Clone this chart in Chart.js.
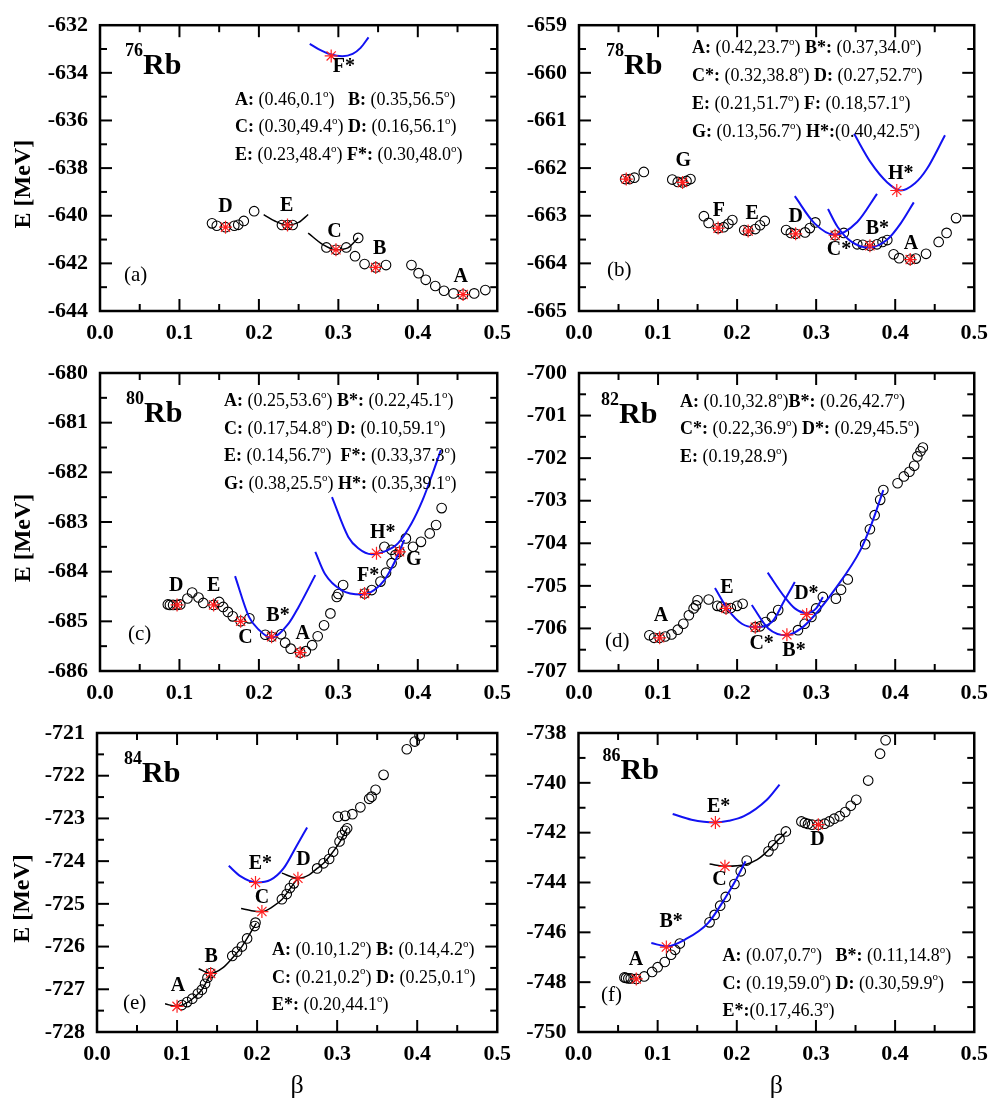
<!DOCTYPE html>
<html>
<head>
<meta charset="utf-8">
<title>Rb isotopes: E versus beta</title>
<script src="https://cdn.jsdelivr.net/npm/chart.js@4.4.1/dist/chart.umd.min.js"></script>
<style>
body { margin: 0; background: #fff; }
#page { position: relative; width: 997px; height: 1104px; overflow: hidden; background: #fff; }
#page canvas { position: absolute; }
</style>
</head>
<body>
<div id="page">
	<canvas id="rb76"></canvas>
	<canvas id="rb78"></canvas>
	<canvas id="rb80"></canvas>
	<canvas id="rb82"></canvas>
	<canvas id="rb84"></canvas>
	<canvas id="rb86"></canvas>
</div>
<script>
// beta axis: min, max, step (same for every panel)
var betaRange = [0, 0.5, 0.1];

// ---------- 76Rb ----------
var rb76Y = [-644, -632, 2];
var rb76Circles = [[0.141,-640.32],[0.147,-640.42],[0.158,-640.48],[0.169,-640.42],[0.174,-640.38],[0.181,-640.22],[0.194,-639.81],
	[0.229,-640.39],[0.236,-640.39],[0.2425,-640.39],[0.285,-641.33],[0.297,-641.43],[0.310,-641.33],[0.325,-640.93],[0.321,-641.70],
	[0.333,-642.03],[0.347,-642.17],[0.360,-642.07],[0.392,-642.07],[0.401,-642.41],[0.410,-642.69],[0.422,-642.95],[0.433,-643.15],
	[0.445,-643.26],[0.457,-643.31],[0.471,-643.26],[0.485,-643.12]];
var rb76Stars = [[0.158,-640.48],[0.236,-640.39],[0.297,-641.43],[0.347,-642.17],[0.457,-643.31],[0.291,-633.29]];
var rb76CurveF = [[0.264,-632.78],[0.275,-633.00],[0.29,-633.22],[0.305,-633.30],[0.318,-633.20],[0.328,-632.95],[0.338,-632.51]];
var rb76CurveE = [[0.206,-639.95],[0.22,-640.22],[0.236,-640.39],[0.25,-640.28],[0.262,-639.95]];
var rb76CurveC = [[0.262,-640.73],[0.28,-641.20],[0.297,-641.43],[0.312,-641.35],[0.325,-640.93]];
var rb76Labels = [["D",0.158,-639.61],["E",0.235,-639.58],["C",0.295,-640.66],["B",0.352,-641.37],["A",0.454,-642.55],["F*",0.307,-633.75]];
var rb76Notes = ["A: (0.46,0.1°)   B: (0.35,56.5°)", "C: (0.30,49.4°) D: (0.16,56.1°)", "E: (0.23,48.4°) F*: (0.30,48.0°)"];

// ---------- 78Rb ----------
var rb78Y = [-665, -659, 1];
var rb78Circles = [[0.0585,-662.23],[0.064,-662.23],[0.070,-662.20],[0.082,-662.08],
	[0.118,-662.24],[0.125,-662.29],[0.131,-662.30],[0.136,-662.27],[0.141,-662.23],
	[0.158,-663.01],[0.164,-663.15],[0.176,-663.26],[0.183,-663.24],[0.189,-663.17],[0.194,-663.09],
	[0.209,-663.30],[0.214,-663.32],[0.223,-663.28],[0.229,-663.20],[0.235,-663.11],
	[0.262,-663.30],[0.268,-663.36],[0.274,-663.38],[0.286,-663.35],[0.292,-663.26],[0.299,-663.14],
	[0.324,-663.41],[0.335,-663.36],
	[0.352,-663.60],[0.359,-663.61],[0.368,-663.63],[0.377,-663.60],[0.384,-663.55],[0.390,-663.51],
	[0.398,-663.81],[0.405,-663.89],[0.419,-663.92],[0.426,-663.90],[0.439,-663.80],[0.455,-663.55],[0.465,-663.36],[0.477,-663.05]];
var rb78Stars = [[0.0598,-662.23],[0.131,-662.30],[0.176,-663.26],[0.214,-663.32],[0.274,-663.38],[0.324,-663.41],[0.368,-663.63],[0.419,-663.92],[0.402,-662.47]];
var rb78CurveH = [[0.348,-661.28],[0.369,-661.88],[0.39,-662.30],[0.407,-662.47],[0.425,-662.32],[0.440,-662.02],[0.463,-661.31]];
var rb78CurveC = [[0.273,-662.59],[0.298,-663.16],[0.323,-663.40],[0.352,-663.13],[0.377,-662.54]];
var rb78CurveB = [[0.315,-662.86],[0.327,-663.23],[0.345,-663.55],[0.367,-663.67],[0.39,-663.50],[0.407,-663.16],[0.4235,-662.72]];
var rb78Labels = [["G",0.132,-661.85],["F",0.177,-662.89],["E",0.219,-662.96],["D",0.274,-663.03],["C*",0.329,-663.71],["B*",0.3775,-663.28],["A",0.420,-663.58],["H*",0.407,-662.12]];
var rb78Notes = ["A: (0.42,23.7°) B*: (0.37,34.0°)", "C*: (0.32,38.8°) D: (0.27,52.7°)", "E: (0.21,51.7°) F: (0.18,57.1°)", "G: (0.13,56.7°) H*:(0.40,42.5°)"];

// ---------- 80Rb ----------
var rb80Y = [-686, -680, 1];
var rb80Circles = [[0.0854,-684.66],[0.088,-684.67],[0.092,-684.67],[0.097,-684.67],[0.101,-684.66],
	[0.110,-684.54],[0.116,-684.42],[0.124,-684.52],[0.130,-684.63],[0.143,-684.67],[0.150,-684.61],[0.155,-684.71],
	[0.161,-684.81],[0.167,-684.90],[0.177,-685.00],[0.188,-684.94],
	[0.208,-685.27],[0.216,-685.31],[0.228,-685.26],
	[0.233,-685.43],[0.240,-685.55],[0.252,-685.63],[0.259,-685.60],[0.267,-685.48],[0.274,-685.30],[0.282,-685.08],
	[0.290,-684.84],[0.298,-684.51],[0.300,-684.45],[0.306,-684.27],
	[0.333,-684.44],[0.342,-684.37],[0.353,-684.20],[0.360,-684.02],[0.367,-683.83],[0.372,-683.66],
	[0.358,-683.50],[0.367,-683.56],[0.377,-683.60],[0.385,-683.33],[0.394,-683.50],[0.404,-683.40],[0.415,-683.23],[0.423,-683.06],[0.430,-682.72]];
var rb80Stars = [[0.097,-684.67],[0.143,-684.67],[0.177,-685.00],[0.216,-685.31],[0.252,-685.63],[0.333,-684.44],[0.348,-683.63],[0.377,-683.60]];
var rb80CurveB = [[0.170,-684.09],[0.1875,-684.91],[0.20,-685.17],[0.215,-685.33],[0.2375,-685.04],[0.25,-684.71],[0.271,-684.07]];
var rb80CurveF = [[0.271,-683.60],[0.283,-684.04],[0.304,-684.37],[0.329,-684.46],[0.345,-684.37],[0.358,-684.17],[0.371,-683.80],[0.383,-683.36]];
var rb80CurveH = [[0.292,-682.50],[0.3125,-683.30],[0.325,-683.53],[0.342,-683.65],[0.36,-683.58],[0.375,-683.43],[0.392,-683.03],[0.406,-682.56],[0.418,-682.05],[0.429,-681.55]];
var rb80Labels = [["D",0.096,-684.29],["E",0.143,-684.29],["C",0.183,-685.33],["B*",0.224,-684.89],["A",0.255,-685.25],["F*",0.3375,-684.08],["H*",0.356,-683.22],["G",0.395,-683.77]];
var rb80Notes = ["A: (0.25,53.6°) B*: (0.22,45.1°)", "C: (0.17,54.8°) D: (0.10,59.1°)", "E: (0.14,56.7°)  F*: (0.33,37.3°)", "G: (0.38,25.5°) H*: (0.35,39.1°)"];

// ---------- 82Rb ----------
var rb82Y = [-707, -700, 1];
var rb82Circles = [[0.089,-706.16],[0.095,-706.22],[0.102,-706.22],[0.109,-706.19],[0.117,-706.14],[0.125,-706.03],[0.132,-705.89],
	[0.139,-705.69],[0.145,-705.53],[0.148,-705.46],[0.150,-705.34],
	[0.164,-705.32],[0.175,-705.47],[0.180,-705.49],[0.186,-705.53],[0.192,-705.52],[0.200,-705.47],[0.207,-705.42],
	[0.223,-705.97],[0.229,-705.95],[0.236,-705.85],[0.244,-705.73],[0.252,-705.57],
	[0.277,-706.04],[0.2855,-705.89],[0.294,-705.73],[0.300,-705.53],[0.3085,-705.26],[0.325,-705.30],[0.3315,-705.09],[0.340,-704.85],
	[0.362,-704.02],[0.368,-703.67],[0.374,-703.34],[0.381,-702.98],[0.385,-702.75],
	[0.403,-702.59],[0.411,-702.43],[0.418,-702.32],[0.424,-702.18],[0.428,-701.96],[0.432,-701.84],[0.435,-701.75]];
var rb82Stars = [[0.102,-706.22],[0.186,-705.53],[0.223,-705.97],[0.263,-706.15],[0.288,-705.67]];
var rb82CurveC = [[0.172,-705.05],[0.189,-705.57],[0.206,-705.89],[0.223,-705.97],[0.244,-705.85],[0.260,-705.34],[0.273,-704.91]];
var rb82CurveB = [[0.2186,-705.45],[0.2395,-706.00],[0.2625,-706.16],[0.281,-706.00],[0.298,-705.69],[0.323,-705.10],[0.356,-704.16],[0.370,-703.55],[0.385,-702.75]];
var rb82CurveD = [[0.2387,-704.69],[0.260,-705.26],[0.273,-705.53],[0.2876,-705.64],[0.300,-705.53],[0.3085,-705.26]];
var rb82Labels = [["A",0.1037,-705.71],["E",0.187,-705.04],["C*",0.231,-706.35],["B*",0.272,-706.53],["D*",0.2876,-705.18]];
var rb82Notes = ["A: (0.10,32.8°)B*: (0.26,42.7°)", "C*: (0.22,36.9°) D*: (0.29,45.5°)", "E: (0.19,28.9°)"];

// ---------- 84Rb ----------
var rb84Y = [-728, -721, 1];
var rb84Circles = [[0.106,-727.37],[0.1125,-727.30],[0.119,-727.22],[0.126,-727.10],[0.131,-727.01],[0.135,-726.87],[0.138,-726.73],[0.142,-726.62],
	[0.169,-726.22],[0.175,-726.12],[0.181,-726.00],[0.1875,-725.81],[0.197,-725.52],[0.198,-725.44],
	[0.231,-724.89],[0.237,-724.77],[0.241,-724.63],[0.246,-724.52],
	[0.275,-724.17],[0.283,-724.05],[0.290,-723.95],[0.295,-723.78],[0.303,-723.54],[0.306,-723.39],[0.310,-723.29],[0.3125,-723.23],
	[0.301,-722.96],[0.310,-722.94],[0.319,-722.90],[0.329,-722.74],[0.340,-722.54],[0.343,-722.49],[0.348,-722.33],[0.358,-721.98],
	[0.387,-721.38],[0.397,-721.20],[0.403,-721.06]];
var rb84Stars = [[0.100,-727.40],[0.142,-726.63],[0.206,-725.18],[0.251,-724.40],[0.198,-724.50]];
var rb84CurveA = [[0.085,-727.34],[0.100,-727.40],[0.112,-727.32],[0.122,-727.18],[0.131,-727.01],[0.138,-726.78],[0.142,-726.63]];
var rb84CurveB = [[0.127,-726.52],[0.142,-726.63],[0.157,-726.50],[0.170,-726.25],[0.181,-726.00],[0.1875,-725.81],[0.199,-725.45]];
var rb84CurveC = [[0.180,-725.11],[0.193,-725.16],[0.206,-725.18],[0.22,-725.06],[0.231,-724.90],[0.241,-724.65],[0.250,-724.42]];
var rb84CurveD = [[0.231,-724.28],[0.251,-724.40],[0.265,-724.32],[0.275,-724.17],[0.283,-724.05],[0.292,-723.85],[0.304,-723.53],[0.3125,-723.23]];
var rb84CurveE = [[0.1646,-724.11],[0.179,-724.35],[0.200,-724.50],[0.2167,-724.44],[0.233,-724.17],[0.25,-723.62],[0.2625,-723.21]];
var rb84Labels = [["A",0.101,-726.93],["B",0.1425,-726.24],["C",0.206,-724.87],["D",0.258,-723.97],["E*",0.204,-724.07]];
var rb84Notes = ["A: (0.10,1.2°) B: (0.14,4.2°)", "C: (0.21,0.2°) D: (0.25,0.1°)", "E*: (0.20,44.1°)"];

// ---------- 86Rb ----------
var rb86Y = [-750, -738, 2];
var rb86Circles = [[0.058,-747.81],[0.060,-747.83],[0.063,-747.85],[0.066,-747.85],[0.073,-747.87],[0.083,-747.77],[0.093,-747.59],
	[0.100,-747.40],[0.109,-747.19],[0.117,-746.90],[0.122,-746.70],[0.128,-746.45],
	[0.1656,-745.60],[0.172,-745.30],[0.179,-744.93],[0.186,-744.58],[0.197,-744.06],[0.205,-743.55],[0.2125,-743.12],
	[0.240,-742.75],[0.246,-742.51],[0.254,-742.25],[0.262,-741.95],
	[0.2816,-741.55],[0.286,-741.61],[0.290,-741.65],[0.295,-741.68],[0.303,-741.68],[0.311,-741.64],[0.317,-741.55],[0.323,-741.44],
	[0.330,-741.34],[0.337,-741.17],[0.344,-740.92],[0.351,-740.68],[0.366,-739.91],[0.381,-738.83],[0.388,-738.29]];
var rb86Stars = [[0.073,-747.87],[0.111,-746.59],[0.185,-743.35],[0.303,-741.68],[0.173,-741.59]];
var rb86CurveB = [[0.092,-746.43],[0.112,-746.56],[0.1346,-746.29],[0.1636,-745.63],[0.184,-744.69],[0.199,-743.89],[0.211,-743.15]];
var rb86CurveC = [[0.1656,-743.26],[0.186,-743.35],[0.211,-743.28],[0.2257,-743.08],[0.234,-742.88],[0.2505,-742.35],[0.263,-741.95]];
var rb86CurveE = [[0.119,-741.25],[0.1428,-741.48],[0.172,-741.59],[0.19,-741.52],[0.209,-741.34],[0.238,-740.68],[0.254,-740.07]];
var rb86Labels = [["A",0.0725,-747.10],["B*",0.117,-745.59],["C",0.178,-743.89],["D",0.302,-742.28],["E*",0.177,-740.96]];
var rb86Notes = ["A: (0.07,0.7°)   B*: (0.11,14.8°)", "C: (0.19,59.0°) D: (0.30,59.9°)", "E*:(0.17,46.3°)"];

var SERIF = '"Liberation Serif", "DejaVu Serif", serif';
var BLUE = '#1212f2';
var BLACK = '#000000';
var RED = '#ff2020';

function toXY(list)
{
	return list.map(function (p) { return {x: p[0], y: p[1]}; });
}

function seg(ctx, x1, y1, x2, y2)
{
	ctx.beginPath();
	ctx.moveTo(x1, y1);
	ctx.lineTo(x2, y2);
	ctx.stroke();
}

// one line of "A: (0.46,0.1°)" style notes, labels bold, degree as small raised o
function drawNote(ctx, row, x, y, size)
{
	var parts = row.split(/([A-H]\*?:)/);
	for (var i = 0; i < parts.length; i++)
	{
		var p = parts[i];
		if (!p) continue;
		if (i % 2 === 1)
		{
			ctx.font = 'bold ' + size + 'px ' + SERIF;
			ctx.fillText(p, x, y);
			x += ctx.measureText(p).width;
		}
		else
		{
			var bits = p.split('°');
			for (var k = 0; k < bits.length; k++)
			{
				ctx.font = size + 'px ' + SERIF;
				ctx.fillText(bits[k], x, y);
				x += ctx.measureText(bits[k]).width;
				if (k < bits.length - 1)
				{
					ctx.font = Math.round(size * 0.6) + 'px ' + SERIF;
					ctx.fillText('o', x, y - size * 0.45);
					x += ctx.measureText('o').width;
				}
			}
		}
	}
}

var Panels =
{
	list: [
		{id: 'rb76', mass: '76', tag: '(a)', box: [0, 0, 520, 365], area: [100, 14, 499, 311], y: rb76Y,
			circles: rb76Circles, stars: rb76Stars, labels: rb76Labels, notes: rb76Notes,
			curves: [[rb76CurveF, BLUE], [rb76CurveE, BLACK], [rb76CurveC, BLACK]],
			iso: [25, 49], tagPos: [24, 30], notePos: [135, 80, 27.2], yTitle: 24, xTitle: false},
		{id: 'rb78', mass: '78', tag: '(b)', box: [500, 0, 497, 365], area: [579, 14, 978, 311], y: rb78Y,
			circles: rb78Circles, stars: rb78Stars, labels: rb78Labels, notes: rb78Notes,
			curves: [[rb78CurveH, BLUE], [rb78CurveC, BLUE], [rb78CurveB, BLUE]],
			iso: [27, 49], tagPos: [28, 35], notePos: [113, 28, 27.8], yTitle: 0, xTitle: false},
		{id: 'rb80', mass: '80', tag: '(c)', box: [0, 345, 520, 365], area: [100, 373, 499, 671], y: rb80Y,
			circles: rb80Circles, stars: rb80Stars, labels: rb80Labels, notes: rb80Notes,
			curves: [[rb80CurveB, BLUE], [rb80CurveF, BLUE], [rb80CurveH, BLUE]],
			iso: [26, 49], tagPos: [28, 31.5], notePos: [124, 33, 27.6], yTitle: 24, xTitle: false},
		{id: 'rb82', mass: '82', tag: '(d)', box: [500, 345, 497, 365], area: [579, 373, 978, 671], y: rb82Y,
			circles: rb82Circles, stars: rb82Stars, labels: rb82Labels, notes: rb82Notes,
			curves: [[rb82CurveC, BLUE], [rb82CurveB, BLUE], [rb82CurveD, BLUE]],
			iso: [22, 50], tagPos: [26, 24], notePos: [101, 34, 27.3], yTitle: 0, xTitle: false},
		{id: 'rb84', mass: '84', tag: '(e)', box: [0, 705, 520, 399], area: [97, 733, 498, 1032], y: rb84Y,
			circles: rb84Circles, stars: rb84Stars, labels: rb84Labels, notes: rb84Notes,
			curves: [[rb84CurveE, BLUE], [rb84CurveA, BLACK], [rb84CurveB, BLACK], [rb84CurveC, BLACK], [rb84CurveD, BLACK]],
			iso: [27, 49], tagPos: [26, 23.5], notePos: [175, 222, 27.5], yTitle: 23, xTitle: true},
		{id: 'rb86', mass: '86', tag: '(f)', box: [500, 705, 497, 399], area: [578.5, 733, 981, 1032], y: rb86Y,
			circles: rb86Circles, stars: rb86Stars, labels: rb86Labels, notes: rb86Notes,
			curves: [[rb86CurveE, BLUE], [rb86CurveB, BLUE], [rb86CurveC, BLACK]],
			iso: [24, 46], tagPos: [22.5, 31.5], notePos: [144, 228, 27.5], yTitle: 0, xTitle: true}
	],

	init: function ()
	{
		var that = this;
		this.list.forEach(function (p) { that.build(p); });
	},

	deco: function (p)
	{
		return {
			id: 'deco',
			afterDraw: function (chart)
			{
				var ctx = chart.ctx, a = chart.chartArea;
				var xs = chart.scales.x, ys = chart.scales.y;
				var i, px, len;
				ctx.save();
				ctx.strokeStyle = '#000';
				ctx.fillStyle = '#000';

				// inward ticks on the four sides, minor ones half way
				ctx.lineWidth = 2;
				var xHalf = betaRange[2] / 2;
				var nx = Math.round((betaRange[1] - betaRange[0]) / xHalf);
				for (i = 1; i < nx; i++)
				{
					px = xs.getPixelForValue(betaRange[0] + i * xHalf);
					len = i % 2 === 0 ? 12 : 7;
					seg(ctx, px, a.bottom, px, a.bottom - len);
					seg(ctx, px, a.top, px, a.top + len);
				}
				var yHalf = p.y[2] / 2;
				var ny = Math.round((p.y[1] - p.y[0]) / yHalf);
				for (i = 1; i < ny; i++)
				{
					px = ys.getPixelForValue(p.y[0] + i * yHalf);
					len = i % 2 === 0 ? 12 : 7;
					seg(ctx, a.left, px, a.left + len, px);
					seg(ctx, a.right, px, a.right - len, px);
				}
				ctx.lineWidth = 2.5;
				ctx.strokeRect(a.left, a.top, a.right - a.left, a.bottom - a.top);

				// nucleus name
				ctx.textAlign = 'left';
				ctx.textBaseline = 'alphabetic';
				ctx.font = 'bold 18px ' + SERIF;
				ctx.fillText(p.mass, a.left + p.iso[0], a.top + p.iso[1] - 18);
				var w = ctx.measureText(p.mass).width;
				ctx.font = 'bold 30px ' + SERIF;
				ctx.fillText('Rb', a.left + p.iso[0] + w, a.top + p.iso[1]);

				// panel tag
				ctx.font = '21px ' + SERIF;
				ctx.fillText(p.tag, a.left + p.tagPos[0], a.bottom - p.tagPos[1]);

				// deformation notes
				for (i = 0; i < p.notes.length; i++)
				{
					drawNote(ctx, p.notes[i], a.left + p.notePos[0], a.top + p.notePos[1] + i * p.notePos[2], 18);
				}

				// minimum labels
				ctx.textAlign = 'center';
				ctx.textBaseline = 'middle';
				ctx.font = 'bold 20px ' + SERIF;
				p.labels.forEach(function (l)
				{
					ctx.fillText(l[0], xs.getPixelForValue(l[1]), ys.getPixelForValue(l[2]));
				});

				// axis titles
				if (p.yTitle)
				{
					ctx.save();
					ctx.translate(p.yTitle, (a.top + a.bottom) / 2 + 16);
					ctx.rotate(-Math.PI / 2);
					ctx.font = 'bold 24px ' + SERIF;
					ctx.fillText('E [MeV]', 0, 0);
					ctx.restore();
				}
				if (p.xTitle)
				{
					ctx.textBaseline = 'alphabetic';
					ctx.font = '26px ' + SERIF;
					ctx.fillText('β', (a.left + a.right) / 2, 1093 - p.box[1]);
				}
				ctx.restore();
			}
		};
	},

	build: function (p)
	{
		var cv = document.getElementById(p.id);
		cv.width = p.box[2];
		cv.height = p.box[3];
		cv.style.left = p.box[0] + 'px';
		cv.style.top = p.box[1] + 'px';

		var yW = p.area[0] - p.box[0];
		var padTop = p.area[1] - p.box[1];
		var padRight = p.box[0] + p.box[2] - p.area[2];
		var xH = p.box[1] + p.box[3] - p.area[3];
		var tickFont = {family: SERIF, weight: 'bold', size: 22};

		var datasets = [];
		datasets.push({
			data: toXY(p.circles), showLine: false, pointStyle: 'circle', pointRadius: 4.8,
			borderColor: '#000', backgroundColor: 'rgba(0,0,0,0)', pointBorderWidth: 1.1, order: 3
		});
		p.curves.forEach(function (c)
		{
			datasets.push({
				data: toXY(c[0]), showLine: true, borderColor: c[1], borderWidth: c[1] === BLUE ? 2 : 1.5,
				pointRadius: 0, fill: false, tension: 0.4, cubicInterpolationMode: 'monotone', order: 2
			});
		});
		datasets.push({
			data: toXY(p.stars), showLine: false, pointStyle: 'star', pointRadius: 6.5,
			borderColor: RED, backgroundColor: RED, pointBorderWidth: 1.2, order: 1
		});

		new Chart(cv, {
			type: 'scatter',
			data: {datasets: datasets},
			options: {
				responsive: false,
				animation: false,
				devicePixelRatio: 1,
				events: [],
				layout: {padding: {top: padTop, right: padRight, left: 0, bottom: 0}},
				plugins: {legend: {display: false}, tooltip: {enabled: false}},
				scales: {
					x: {
						type: 'linear', min: betaRange[0], max: betaRange[1],
						grid: {display: false, drawTicks: false}, border: {display: false},
						ticks: {stepSize: betaRange[2], padding: 9, font: tickFont, color: '#000', maxRotation: 0, autoSkip: false,
							callback: function (v) { return Number(v).toFixed(1); }},
						afterFit: function (s) { s.height = xH; }
					},
					y: {
						type: 'linear', min: p.y[0], max: p.y[1],
						grid: {display: false, drawTicks: false}, border: {display: false},
						ticks: {stepSize: p.y[2], padding: 12, font: tickFont, color: '#000',
							callback: function (v) { return String(Math.round(v)); }},
						afterFit: function (s) { s.width = yW; }
					}
				}
			},
			plugins: [this.deco(p)]
		});
	}
};

Panels.init();
</script>
</body>
</html>
